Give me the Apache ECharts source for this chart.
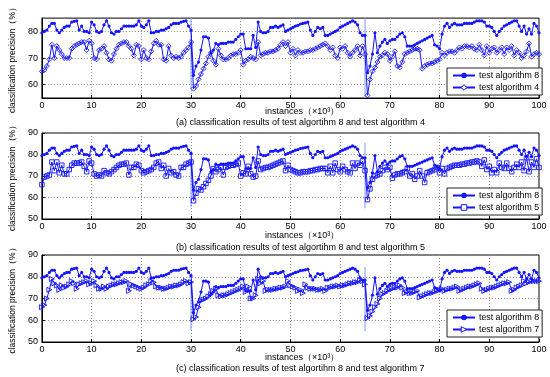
<!DOCTYPE html>
<html><head><meta charset="utf-8">
<script src="https://cdn.jsdelivr.net/npm/echarts@6/dist/echarts.min.js"></script>
<style>html,body{margin:0;padding:0;background:#fff}#c{width:550px;height:377px}</style>
</head><body><div id="c"></div>
<script>
// sample spacing of the instance axis (x10^3)
const X_STEP = 0.5;

const alg8 = [
79.5,80,80.5,82,83,83,80.5,79.5,80.5,81.5,
82,82,83.5,83.8,84,80.5,82,80,80,79.5,
83.5,82.5,80,79.5,80,82.5,84,82,79.5,79,
80,80,81,82,82,82,82,82,82.5,84,
82,81.5,82.5,84,79.5,79.5,80,80,80.5,80.5,
81,81.5,82.5,83,83,83,83.5,83.8,84,82,
80.5,63.5,67,68.5,73,78,78,77.5,72,73,
75.5,75,75.5,75.5,75.5,76,76,76,77,78,
79,79,73.5,73.5,73.5,78.5,74,83.5,80,79.5,
79.5,80,81.5,81.5,82,81.5,82,82.5,80,80.5,
81,81.5,82,82.3,82.8,83,83.2,83.5,80.5,78.5,
80,81.5,81,81.5,78.5,78.5,79,79.5,80,80.5,
81.5,82,82.5,83,83.5,84,83.5,82.5,79.5,78.5,
78.5,64.5,67,71.5,79.5,72,74.5,76,77,75.5,
76.5,77,77,78,79,79.5,78,74.5,74.5,74.5,
75,75.5,76,76.5,77,77.5,78,78.5,75,74.5,
73.5,79,82,83,81.5,82.5,83,82.5,82.5,82.5,
83,83,83,83,83.5,84,84,84,83.5,82,
82,81.5,80,78.5,80,81,82,82.5,83,83.5,
84,84,82,80,82,79,81,79,83,82,
79.5];

const alg4 = [
65,65.5,67,69.5,75,70,74.5,73,71.5,70,
70,70,73.5,74.5,75,75.5,76,76,73,76.5,
75.5,70,69.5,73,73.5,74.5,72,69.5,69,71.5,
73.5,75,75.5,76,76,74.5,73.5,71,75,74.5,
69.5,73,70,69.5,72.5,75.5,76.5,75,75,69.5,
69,74.5,71,70,70.5,70,70.5,72,73,74,
76,58.5,59.5,62,64,66,68,70.5,72,69,
67.5,73.5,71,69.5,69.5,70,71,71.5,71.5,72,
73,67.5,69,69.5,70.5,70,69.5,76,71,71.5,
72,72,72.5,72.5,73,73.5,75,76,74.5,76,
72,73.5,71,73,72,72,72.5,72.5,73,73,
73.5,74,74.5,75,75.5,74.5,73,74,71,70,
74,73.5,74.5,72,70.5,72,73,74.5,71,74.5,
71.5,56,62,65,66.5,68.5,70.5,71,72,71.5,
69,70.5,72.5,67,66.5,68.5,71.5,72,72.5,73,
73.5,73.5,73,66,67,67.5,68,68,68.5,69,
69.5,72,71,72,72.5,72.5,72,73,74,73.5,
74.5,74.5,74,74.5,73.5,73,75,73,71,74.5,
72,73.5,74,72,73,74,71.5,74,73,74.5,
71,73,72,70,71,72.5,75.5,70.5,71.5,72,
71.5];

const alg5 = [
66,69.5,70,70.5,76.5,72.5,76.5,71.5,75,71,
71,73,75,76,76,76,76.5,74.5,72,77,
76,71,70,70.5,70,72.5,71.5,71,72,73,
74,75,75.5,75.5,76,70.5,74,74,75.5,75,
72.5,71.5,72,72.5,73,74,76,76.5,73.5,75,
70,73.5,71.5,72,70.5,70,74,74,75.5,76,
76.5,58.5,62,64,63.5,65,66.5,68,70,73.5,
72,73,74,70.5,74,74.5,75,75,75.5,76,
70,71.5,71,74.5,71,69.5,70,77,73,73.5,
74,74,74.5,75,75.5,76,76.5,77,72.5,75,
73,72.5,72,71.5,71.5,72,72,72,72.5,72.5,
73,73,73.5,73.5,73.5,71.5,74.5,71.5,76,73,
72,74.5,73,72,71.5,76,73.5,76,75,77,
72.5,59,64,68.5,70,70.5,71,72.5,74,73,
74,69,70.5,71,71,71.5,72,73.5,70,71,
68.5,70,72.5,70,67,71.5,72,72.5,73,74,
71.5,73.5,71,73.5,74,74.5,75,75,75,75.5,
75.5,76,76,76.5,76.5,77,76.5,74.5,77.5,73,
74.5,71.5,73,71.5,76,74,73.5,76,73.5,72,
74,75.5,74,76.5,72.5,78.5,72,76.5,74,78,
74];

const alg7 = [
66,67,70,74,79,77,76,74,76,75,
75.5,76.5,78,77,74.5,76.5,77,77.5,78,76.5,
77,78,76,74.5,74.5,75.5,74.5,75.5,76,76.5,
76.5,77,77.5,77.5,78,73.5,76.5,76,75.5,75,
74.5,75,76,76.5,78,77.5,75.5,75,75,74.5,
74.5,75,75.5,75.5,76,76,76.5,77.5,78,77,
77.5,60.5,61.5,66,69,69.5,70,71,72,73.5,
74.5,71.5,71,71.5,71.5,72,72.5,73,73.5,74,
74.5,75.5,73,75.5,70,70,71.5,79,77,78,
73.5,74,74,74,74.5,74.5,75,75,75.5,78,
76,75.5,75,73.5,74,72.5,76.5,75,74.5,74.5,
74.5,74,74,74.5,73.5,75,75,75.5,75.5,76,
75.5,76,76,76.5,77,77,77.5,77.5,78.5,78,
76.5,61,62,64,66,67.5,70,72,72.5,73.5,
74,74.5,75,75,76,75,72.5,73,72.5,72.5,
73,73.5,70.5,71,71.5,72,72.5,72.5,73,73.5,
74,74.5,73.5,74,74.5,74.5,75,75.5,73.5,74,
74.5,75,75.5,75.5,76,76.5,77,74.5,73.5,74,
74.5,75,75,75.5,76,76.5,77,77,77.5,73.5,
74,75,75.5,76,78,77,77.5,78,78,78,
78];

// concept-drift markers: [x, upper value, lower value]
const drift1 = [[30, 85, 58.5], [65, 85, 55]];
const drift2 = [[30, 78, 55.5], [65, 85.5, 55]];
const drift3 = [[30, 79, 55.5], [65, 84.5, 55]];

const yTicks1 = [60, 70, 80];
const yTicks23 = [50, 60, 70, 80, 90];
const xTickLabels = [0,10,20,30,40,50,60,70,80,90,100];

const names = ['test algorithm 8', 'test algorithm 4', 'test algorithm 5', 'test algorithm 7'];
const captions = [
  '(a) classification results of test algortihm 8 and test algorithm 4',
  '(b) classification results of test algortihm 8 and test algorithm 5',
  '(c) classification results of test algortihm 8 and test algorithm 7'
];
const yName = 'classification precision（%）';
const xName = 'instances（×10³）';

const xs = alg8.map((_, i) => i * X_STEP);
const pair = arr => arr.map((v, i) => [xs[i], v]);

const BLUE = '#1414ff';
const FONT = '"Liberation Sans", Arial, sans-serif';

const panels = [
  {top: 10, height: 88, min: 55, max: 85, ticks: yTicks1, other: alg4, name: names[1], symbol: 'diamond', size: 5, rot: 0, drift: drift1, legendTop: 68, xNameY: 113, capY: 124},
  {top: 133, height: 86, min: 50, max: 90, ticks: yTicks23, other: alg5, name: names[2], symbol: 'rect', size: 4.5, rot: 0, drift: drift2, legendTop: 188, xNameY: 237, capY: 249},
  {top: 255, height: 87, min: 50, max: 90, ticks: yTicks23, other: alg7, name: names[3], symbol: 'triangle', size: 5, rot: -90, drift: drift3, legendTop: 310, xNameY: 359, capY: 370}
];

const grid = [], xAxis = [], yAxis = [], series = [], legend = [], graphic = [];
panels.forEach((p, i) => {
  grid.push({left: 29, right: 11, top: p.top, height: p.height, show: true, borderColor: '#000', borderWidth: 1, backgroundColor: '#fff'});
  xAxis.push({
    type: 'value', gridIndex: i, min: 0, max: 100, interval: 10,
    axisLine: {show: true, lineStyle: {color: '#000', width: 1}},
    axisTick: {show: true, inside: true, length: 3, lineStyle: {color: '#000'}, customValues: xTickLabels},
    axisLabel: {color: '#000', fontSize: 9, fontFamily: FONT, margin: 3, customValues: xTickLabels},
    splitLine: {show: true, lineStyle: {color: '#8a8a8a', type: [1, 2], width: 1}}
  });
  yAxis.push({
    type: 'value', gridIndex: i, min: p.min, max: p.max,
    name: yName, nameLocation: 'middle', nameGap: 16,
    nameTextStyle: {fontSize: 8.5, fontFamily: FONT, color: '#000'},
    axisLine: {show: true, lineStyle: {color: '#000', width: 1}},
    axisTick: {show: true, inside: true, length: 3, lineStyle: {color: '#000'}, customValues: p.ticks},
    axisLabel: {color: '#000', fontSize: 9, fontFamily: FONT, margin: 4, customValues: p.ticks},
    splitLine: {show: true, lineStyle: {color: '#8a8a8a', type: [1, 2], width: 1}}
  });
  p.drift.forEach(d => {
    series.push({
      type: 'line', xAxisIndex: i, yAxisIndex: i, silent: true, symbol: 'none',
      data: [[d[0], d[1]], [d[0], d[2]]],
      lineStyle: {color: '#8296ff', width: 1}, z: 1
    });
  });
  series.push({
    name: p.name, type: 'line', xAxisIndex: i, yAxisIndex: i,
    data: pair(p.other), symbol: p.symbol, symbolSize: p.size, symbolRotate: p.rot,
    showAllSymbol: true, animation: false,
    lineStyle: {color: BLUE, width: 1},
    itemStyle: {color: 'rgba(255,255,255,0)', borderColor: BLUE, borderWidth: 0.9}, z: 3
  });
  series.push({
    name: names[0], type: 'line', xAxisIndex: i, yAxisIndex: i,
    data: pair(alg8), symbol: 'circle', symbolSize: 3.2,
    showAllSymbol: true, animation: false,
    lineStyle: {color: BLUE, width: 1},
    itemStyle: {color: BLUE, borderWidth: 0}, z: 4
  });
  legend.push({
    left: 447, top: p.legendTop, orient: 'vertical',
    data: [
      {name: names[0], itemStyle: {color: BLUE, borderWidth: 0}},
      {name: p.name, itemStyle: {color: '#fff', borderColor: BLUE, borderWidth: 1}}
    ],
    backgroundColor: '#fff', borderColor: '#222', borderWidth: 1, borderRadius: 0,
    padding: [3, 3, 3, 5], itemGap: 3, itemWidth: 22, itemHeight: 7,
    textStyle: {fontSize: 8.8, fontFamily: FONT, color: '#000', padding: [0, 0, 0, -1]},
    selectedMode: false
  });
  graphic.push({type: 'text', left: 265, top: p.xNameY - 6, style: {text: xName, font: '9px ' + FONT, fill: '#000'}});
  graphic.push({type: 'text', left: 176, top: p.capY - 6, style: {text: captions[i], font: '9px ' + FONT, fill: '#000'}});
});

const chart = echarts.init(document.getElementById('c'), null, {renderer: 'canvas'});
chart.setOption({animation: false, backgroundColor: '#fff', grid, xAxis, yAxis, series, legend, graphic});
</script></body></html>
